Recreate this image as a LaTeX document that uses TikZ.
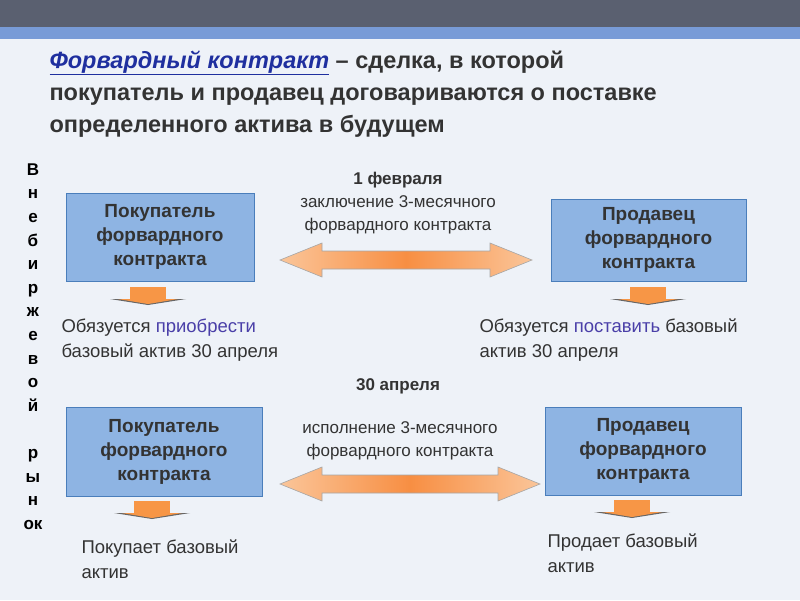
\documentclass[tikz,border=0pt]{standalone}
\usepackage{fontspec}
\setmainfont{Liberation Sans}
\definecolor{bg}{HTML}{EEF2F8}
\definecolor{boxf}{HTML}{8EB4E3}
\definecolor{boxd}{HTML}{4A7EBB}
\definecolor{org}{HTML}{F79646}
\definecolor{txt}{HTML}{333333}
\definecolor{linkc}{HTML}{1F2F9F}
\definecolor{verb}{HTML}{4A3FA8}
\definecolor{topbar}{HTML}{5A6070}
\definecolor{band}{HTML}{789BD7}
\definecolor{band2}{HTML}{AFC3E1}
\tikzset{
 box/.style={draw=boxd,line width=1pt,fill=boxf,align=center,font=\bfseries\fontsize{19}{24}\selectfont,text=txt,inner sep=0pt},
 lbl/.style={align=left,anchor=north west,font=\fontsize{18.5}{25}\selectfont,text=txt},
 clbl/.style={align=center,font=\fontsize{17}{23}\selectfont,text=txt},
 dblarr/.style={draw=gray!70,line width=0.6pt,left color=org!55!white,right color=org!55!white,middle color=org!95!red},
}
\newcommand{\dblarrow}[3]{%
 \path[dblarr] (#1,#3) -- (#1+42,#3-17) -- (#1+42,#3-9) -- (#2-42,#3-9) -- (#2-42,#3-17) -- (#2,#3) -- (#2-42,#3+17) -- (#2-42,#3+9) -- (#1+42,#3+9) -- (#1+42,#3+17) -- cycle;}
\newcommand{\downarr}[2]{%
 \fill[org] ({#1-18},{#2}) rectangle ({#1+18},{#2+12});
 \fill[gray!80!black] ({#1-38},{#2+12}) -- ({#1+38},{#2+12}) -- ({#1},{#2+18}) -- cycle;
 \fill[org] ({#1-30},{#2+12}) -- ({#1+30},{#2+12}) -- ({#1},{#2+17}) -- cycle;}
\begin{document}
\begin{tikzpicture}[x=1pt,y=-1pt]
\fill[bg] (0,0) rectangle (800,600);
\useasboundingbox (0,0) rectangle (800,600);
\fill[topbar] (0,0) rectangle (800,27);
\fill[band] (0,27) rectangle (800,39);
\node[anchor=north west,align=left,font=\bfseries\fontsize{23.5}{32}\selectfont,text=txt] (title) at (46,47)
 {\textcolor{linkc}{\itshape\underline{Форвардный контракт}} – сделка, в которой\\покупатель и продавец договариваются о поставке\\определенного актива в будущем};
\node[anchor=north,align=center,font=\bfseries\fontsize{17}{23.6}\selectfont,text=black] (vert) at (33,160)
 {В\\н\\е\\б\\и\\р\\ж\\е\\в\\о\\й\\ \\р\\ы\\н\\ок};
\node[box,minimum width=188pt,minimum height=88pt] (b1) at (160,237) {Покупатель\\форвардного\\контракта};
\node[box,minimum width=195pt,minimum height=82pt] (s1) at (648.5,240) {Продавец\\форвардного\\контракта};
\node[box,minimum width=196pt,minimum height=89pt] (b2) at (164,451.5) {Покупатель\\форвардного\\контракта};
\node[box,minimum width=196pt,minimum height=88pt] (s2) at (643,451) {Продавец\\форвардного\\контракта};
\dblarrow{280}{532}{260}
\dblarrow{280}{540}{484}
\node[clbl] (c1) at (398,203) {\textbf{1 февраля}\\заключение 3-месячного\\форвардного контракта};
\node[font=\bfseries\fontsize{17}{20}\selectfont,text=txt] (d2) at (398,386) {30 апреля};
\node[clbl] (c2) at (400,441) {исполнение 3-месячного\\форвардного контракта};
\downarr{148}{287}
\downarr{648}{287}
\downarr{152}{501}
\downarr{632}{500}
\node[lbl] (t1) at (58,315) {Обязуется \textcolor{verb}{приобрести}\\базовый актив 30 апреля};
\node[lbl] (t2) at (476,315) {Обязуется \textcolor{verb}{поставить} базовый\\актив 30 апреля};
\node[lbl] (t3) at (78,536) {Покупает базовый\\актив};
\node[lbl] (t4) at (544,530) {Продает базовый\\актив};
\end{tikzpicture}
\end{document}
